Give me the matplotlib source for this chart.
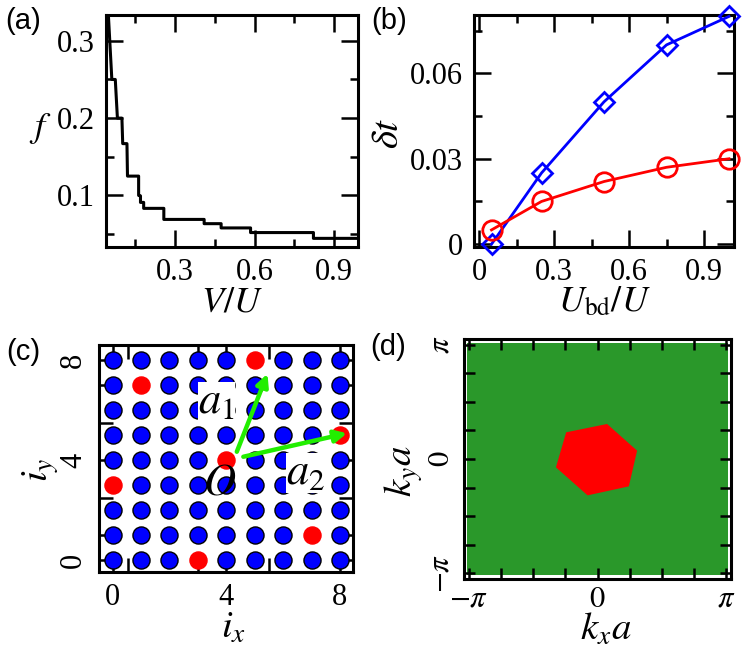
import numpy as np
import matplotlib
matplotlib.use("Agg")
from matplotlib import pyplot as plt
from matplotlib.ticker import FixedLocator

plt.rcParams['font.family'] = ['Liberation Serif', 'DejaVu Serif']
plt.rcParams['mathtext.fontset'] = 'stix'
plt.rcParams['axes.linewidth'] = 2.2

# (a) f vs V/U (step-like curve)
v_vals = [0.049, 0.062, 0.075, 0.083, 0.100, 0.103, 0.119, 0.121, 0.163, 0.163,
          0.170, 0.170, 0.182, 0.182, 0.258, 0.258, 0.410, 0.410, 0.474, 0.474,
          0.585, 0.585, 0.822, 0.822, 0.990]
f_vals = [0.333, 0.250, 0.250, 0.200, 0.200, 0.167, 0.167, 0.125, 0.125, 0.100,
          0.0995, 0.091, 0.091, 0.0833, 0.0833, 0.069, 0.069, 0.0635, 0.0635, 0.058,
          0.058, 0.052, 0.052, 0.0445, 0.0445]

# (b) delta t vs U_bd/U
ubd = [0.05, 0.25, 0.5, 0.75, 1.0]
dt_blue = [0.0, 0.025, 0.050, 0.070, 0.080]
dt_red = [0.005, 0.015, 0.022, 0.027, 0.030]

# (c) lattice sites, red = occupied
sites = np.arange(9)
red_ix = [5, 1, 8, 4, 0, 7, 3]
red_iy = [8, 7, 5, 4, 3, 1, 0]

# (d) k-grid and reduced zone polygon
kgrid = np.linspace(-np.pi, np.pi, 111)
hex_kx = [-0.765, 0.234, 0.967, 0.765, -0.242, -1.015]
hex_ky = [0.734, 0.963, 0.229, -0.752, -1.000, -0.229]

W, H = 745, 653
fig = plt.figure(figsize=(7.45, 6.53), dpi=100)


def box(l, t, r, b):
    return [l / W, (H - b) / H, (r - l) / W, (b - t) / H]


def style_ticks(ax, major=12, minor=6):
    ax.tick_params(which='both', direction='in', top=True, right=True,
                   width=1.8, labelsize=22)
    ax.tick_params(which='major', length=major, pad=8)
    ax.tick_params(which='minor', length=minor)


def place_labels(ax, xy_x, xy_y):
    ax.xaxis.set_label_coords(*xy_x)
    ax.yaxis.set_label_coords(*xy_y)
    ax.xaxis.label.set_va('center')
    ax.yaxis.label.set_va('center')
    ax.yaxis.label.set_ha('center')


# ---- (a)
ax1 = fig.add_axes(box(106, 15, 358, 247))
ax1.plot(v_vals, f_vals, color='black', lw=2.2)
ax1.set_xlim(0.04, 0.99)
ax1.set_ylim(1 / 30, 1 / 3)
ax1.set_xticks([0.3, 0.6, 0.9])
ax1.set_xticklabels(['0.3', '0.6', '0.9'])
ax1.set_yticks([0.1, 0.2, 0.3])
ax1.set_yticklabels(['0.1', '0.2', '0.3'])
ax1.xaxis.set_minor_locator(FixedLocator([0.15, 0.45, 0.75]))
ax1.yaxis.set_minor_locator(FixedLocator([0.05, 0.15, 0.25]))
style_ticks(ax1)
ax1.set_xlabel('$V/U$', fontsize=26)
ax1.set_ylabel('$f$', fontsize=26, rotation=0)
place_labels(ax1, (0.5, -0.24), (-0.26, 0.51))

# ---- (b)
ax2 = fig.add_axes(box(474, 15, 734, 247))
ax2.plot(ubd, dt_blue, color='blue', lw=2.0, marker='D', ms=10,
         mfc='none', mec='blue', mew=2.0, clip_on=False, zorder=3)
ax2.plot(ubd, dt_red, color='red', lw=2.0, marker='o', ms=14,
         mfc='none', mec='red', mew=2.0, clip_on=False, zorder=4)
ax2.set_xlim(-0.02, 1.02)
ax2.set_ylim(-0.001, 0.0805)
ax2.set_xticks([0, 0.3, 0.6, 0.9])
ax2.set_xticklabels(['0', '0.3', '0.6', '0.9'])
ax2.set_yticks([0, 0.03, 0.06])
ax2.set_yticklabels(['0', '0.03', '0.06'])
ax2.xaxis.set_minor_locator(FixedLocator([0.15, 0.45, 0.75]))
ax2.yaxis.set_minor_locator(FixedLocator([0.015, 0.045, 0.075]))
style_ticks(ax2)
ax2.set_xlabel(r'$U_{\rm bd}/U$', fontsize=26)
ax2.set_ylabel(r'$\delta t$', fontsize=28)
place_labels(ax2, (0.5, -0.24), (-0.33, 0.49))

# ---- (c)
ax3 = fig.add_axes(box(99, 345, 353, 572))
gx, gy = np.meshgrid(sites, sites)
gx, gy = gx.ravel(), gy.ravel()
is_red = np.zeros(gx.shape, dtype=bool)
for rx, ry in zip(red_ix, red_iy):
    is_red |= (gx == rx) & (gy == ry)
ax3.plot(gx[~is_red], gy[~is_red], 'o', ms=12.3, mfc='blue', mec='black',
         mew=1.0, ls='none', zorder=2)
ax3.plot(gx[is_red], gy[is_red], 'o', ms=12.3, mfc='red', mec='red',
         mew=1.0, ls='none', zorder=2)
ax3.annotate('', xy=(5.45, 7.45), xytext=(4.37, 4.33),
             arrowprops=dict(arrowstyle='-|>', color='#22ee00', lw=3.2,
                             mutation_scale=18, shrinkA=0, shrinkB=0), zorder=4)
ax3.annotate('', xy=(8.25, 5.07), xytext=(4.6, 4.13),
             arrowprops=dict(arrowstyle='-|>', color='#22ee00', lw=3.2,
                             mutation_scale=18, shrinkA=0, shrinkB=0), zorder=4)
ax3.text(3.66, 6.33, '$a_1$', fontsize=32, ha='center', va='center', zorder=5,
         bbox=dict(facecolor='white', edgecolor='none', pad=0))
ax3.text(6.8, 3.47, '$a_2$', fontsize=32, ha='center', va='center', zorder=5,
         bbox=dict(facecolor='white', edgecolor='none', pad=0))
ax3.text(3.78, 3.07, '$O$', fontsize=32, ha='center', va='center', zorder=5)
ax3.set_xlim(-0.48, 8.46)
ax3.set_ylim(-0.48, 8.6)
ax3.set_xticks([0, 4, 8])
ax3.set_xticklabels(['0', '4', '8'])
ax3.set_yticks([0, 4, 8])
ax3.set_yticklabels(['0', '4', '8'], rotation=90, va='center')
ax3.xaxis.set_minor_locator(FixedLocator([0.55, 3, 5.5]))
ax3.yaxis.set_minor_locator(FixedLocator([1, 2.5, 5.5, 7]))
style_ticks(ax3, major=10, minor=10)
ax3.set_xlabel('$i_x$', fontsize=28)
ax3.set_ylabel('$i_y$', fontsize=28)
place_labels(ax3, (0.53, -0.25), (-0.23, 0.45))

# ---- (d)
ax4 = fig.add_axes(box(464, 339, 731, 579))
kx, ky = np.meshgrid(kgrid, kgrid)
ax4.scatter(kx.ravel(), ky.ravel(), s=10, marker='s', color='#2a982a',
            linewidths=0, zorder=1)
ax4.fill(hex_kx, hex_ky, color='red', lw=0, zorder=3)
ax4.set_xlim(-3.26, 3.26)
ax4.set_ylim(-3.3, 3.3)
ax4.set_xticks([-np.pi, 0, np.pi])
ax4.set_xticklabels([r'$-\pi$', '$0$', r'$\pi$'])
ax4.set_yticks([-np.pi, 0, np.pi])
ax4.set_yticklabels([r'$-\pi$', '$0$', r'$\pi$'], rotation=90, va='center')
quarter = np.arange(-4, 5) * np.pi / 4
ax4.xaxis.set_minor_locator(FixedLocator(quarter))
ax4.yaxis.set_minor_locator(FixedLocator(quarter))
style_ticks(ax4, major=8, minor=8)
ax4.tick_params(axis='x', pad=4)
ax4.tick_params(axis='y', pad=6)
ax4.set_xlabel('$k_xa$', fontsize=28)
ax4.set_ylabel('$k_ya$', fontsize=28)
place_labels(ax4, (0.53, -0.215), (-0.225, 0.45))

# panel letters
for lbl, px, py in [('(a)', 23, 21), ('(b)', 389, 21), ('(c)', 23, 352), ('(d)', 388, 347)]:
    fig.text(px / W, 1 - py / H, lbl, fontsize=21, family='Liberation Sans',
             ha='center', va='center')

fig.savefig('out.png', dpi=100)
